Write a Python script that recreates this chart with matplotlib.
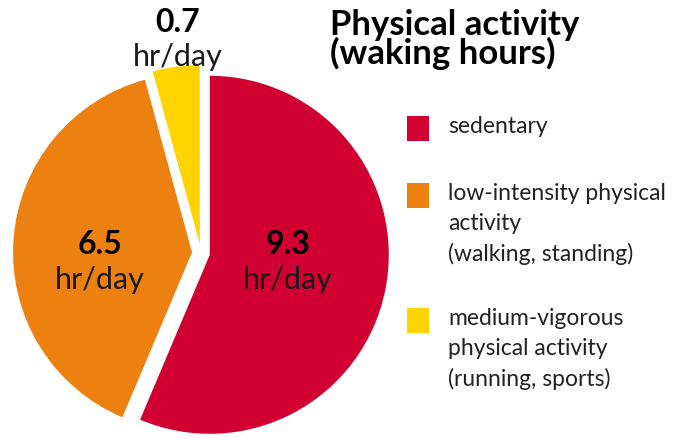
import matplotlib.pyplot as plt
from matplotlib.patches import Rectangle

# data
categories = ["sedentary",
              "low-intensity physical\nactivity\n(walking, standing)",
              "medium-vigorous\nphysical activity\n(running, sports)"]
hours = [9.3, 6.5, 0.7]
colors = ["#D00030", "#EC8010", "#FFD400"]
unit = "hr/day"
title = "Physical activity\n(waking hours)"

plt.rcParams['font.family'] = ['Lato', 'DejaVu Sans']

fig = plt.figure(figsize=(6.94, 4.39), dpi=100)

# pie axes: r_px pixels per data unit, centre at (cx, cy) px from bottom-left
r_px = 179.0
cx, cy = 201.0, 185.0
ax_w = 404.0
ax = fig.add_axes([0, 0, ax_w / 694, 1])
wedges, _ = ax.pie(hours, colors=colors, startangle=90, counterclock=False,
                   explode=[0.05, 0.05, 0.05],
                   wedgeprops=dict(linewidth=0))
ax.set_xlim(-cx / r_px, (ax_w - cx) / r_px)
ax.set_ylim(-cy / r_px, (439 - cy) / r_px)
ax.set_aspect('auto')
ax.axis('off')

# value labels (pixel positions from top-left)
label_pos = [(288, 245), (100, 245), (178, 22)]
for v, (px, py) in zip(hours, label_pos):
    x = (px - cx) / r_px
    y = (439 - py - cy) / r_px
    ax.text(x, y, f"{v}", ha='center', va='center', fontsize=23,
            fontweight='bold', color='black')
    ax.text(x, y - 35 / r_px, unit, ha='center', va='center', fontsize=22,
            color='#1a1a1a')

# title
fig.text(330 / 694, 1 - 9 / 439, title, ha='left', va='top', fontsize=25,
         fontweight='bold', linespacing=0.85)

# legend drawn by hand so the swatch lines up with the first text line
leg_y = [129, 196, 321]
for cat, col, py in zip(categories, colors, leg_y):
    fig.patches.append(Rectangle((407 / 694, 1 - (py + 13) / 439), 22 / 694, 25 / 439,
                                 transform=fig.transFigure, color=col, linewidth=0))
    fig.text(448 / 694, 1 - (py - 13) / 439, cat, ha='left', va='top',
             fontsize=16.5, color='#222222', linespacing=1.52)

fig.savefig("out.png", dpi=100)
